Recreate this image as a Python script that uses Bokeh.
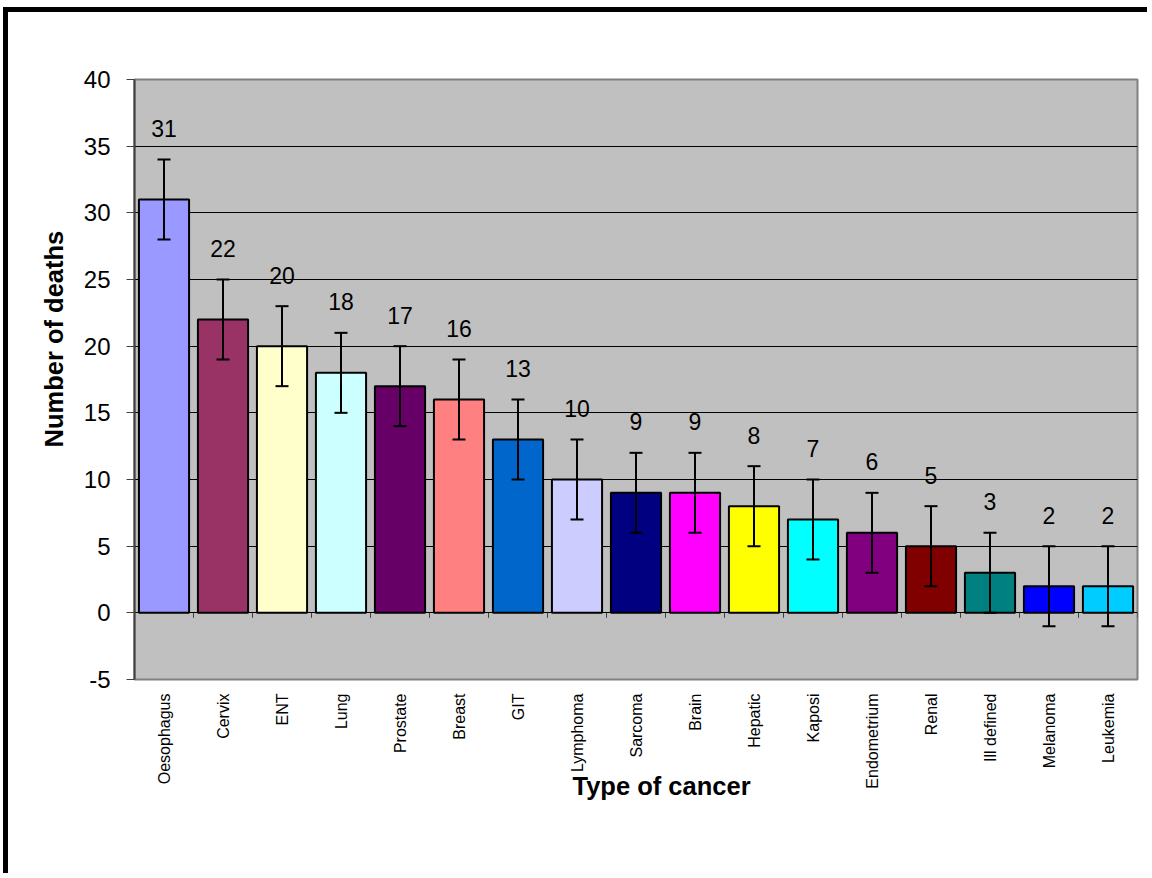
import numpy as np
from bokeh.plotting import figure
from bokeh.models import (ColumnDataSource, FixedTicker, Whisker, TeeHead, Title, Range1d)
from bokeh.core.properties import value
from bokeh.embed import file_html
from bokeh.resources import INLINE

categories = ["Oesophagus", "Cervix", "ENT", "Lung", "Prostate", "Breast", "GIT",
              "Lymphoma", "Sarcoma", "Brain", "Hepatic", "Kaposi", "Endometrium",
              "Renal", "Ill defined", "Melanoma", "Leukemia"]
deaths = [31, 22, 20, 18, 17, 16, 13, 10, 9, 9, 8, 7, 6, 5, 3, 2, 2]
errors = [3, 3, 3, 3, 3, 3, 3, 3, 3, 3, 3, 3, 3, 3, 3, 3, 3]
bar_colors = ["#9999FF", "#993366", "#FFFFCC", "#CCFFFF", "#660066", "#FF8080",
              "#0066CC", "#CCCCFF", "#000080", "#FF00FF", "#FFFF00", "#00FFFF",
              "#800080", "#800000", "#008080", "#0000FF", "#00CCFF"]
y_ticks = [-5, 0, 5, 10, 15, 20, 25, 30, 35, 40]
y_title = "Number of deaths"
x_title = "Type of cancer"

FONT = "Liberation Sans"
n = len(categories)
xs = list(range(n))
boundaries = [i - 0.5 for i in range(n + 1)]
TICK_LEN = 0.375  # length of category tick marks below zero line (y units)

src = ColumnDataSource(dict(
    x=xs,
    top=deaths,
    color=bar_colors,
    upper=[d + e for d, e in zip(deaths, errors)],
    lower=[d - e for d, e in zip(deaths, errors)],
    label=[str(d) for d in deaths],
))

p = figure(width=1144, height=866,
           x_range=Range1d(-0.5, n - 0.5), y_range=Range1d(y_ticks[0], y_ticks[-1]),
           output_backend="svg", toolbar_location=None,
           min_border_left=126, min_border_right=15,
           min_border_top=67, min_border_bottom=199,
           background_fill_color="#C0C0C0", border_fill_color="white",
           styles={"margin-left": "3px", "margin-top": "7px",
                   "border-left": "5px solid black", "border-top": "5px solid black"})

p.outline_line_color = "#808080"
p.outline_line_width = 2

# grid
p.xgrid.visible = False
p.ygrid.ticker = FixedTicker(ticks=y_ticks)
p.ygrid.grid_line_color = "black"
p.ygrid.grid_line_width = 1

# y axis
p.yaxis.ticker = FixedTicker(ticks=y_ticks)
p.yaxis.major_label_overrides = {t: str(t) for t in y_ticks}
p.yaxis.major_tick_out = 8
p.yaxis.major_tick_in = 0
p.yaxis.minor_tick_line_color = None
p.yaxis.major_tick_line_color = "#404040"
p.yaxis.axis_line_color = "#404040"
p.yaxis.axis_line_width = 2
p.yaxis.major_label_standoff = 16
p.yaxis.major_label_text_font = FONT
p.yaxis.major_label_text_font_size = "24px"
p.yaxis.major_label_text_color = "black"

# x axis (category labels at bottom)
p.xaxis.ticker = FixedTicker(ticks=xs)
p.xaxis.major_label_overrides = {i: c for i, c in zip(xs, categories)}
p.xaxis.major_label_orientation = np.pi / 2
p.xaxis.major_tick_out = 0
p.xaxis.major_tick_in = 0
p.xaxis.minor_tick_line_color = None
p.xaxis.axis_line_color = None
p.xaxis.major_label_standoff = 14
p.xaxis.major_label_text_font = FONT
p.xaxis.major_label_text_font_size = "16px"
p.xaxis.major_label_text_color = "black"

# tick marks between categories on the zero line
p.segment(x0=boundaries, y0=[0] * len(boundaries), x1=boundaries,
          y1=[-TICK_LEN] * len(boundaries), line_color="#404040", line_width=1)

# bars
p.vbar(x="x", top="top", bottom=0, width=0.85, source=src,
       fill_color="color", line_color="black", line_width=2)

# error bars (drawn over the bars)
p.add_layout(Whisker(source=src, base="x", upper="upper", lower="lower",
                     line_color="black", line_width=2, level="overlay",
                     upper_head=TeeHead(size=13, line_width=2, line_color="black"),
                     lower_head=TeeHead(size=13, line_width=2, line_color="black")))

# value labels
p.text(x="x", y="top", text="label", source=src, text_align="center",
       text_baseline="alphabetic", y_offset=-71,
       text_font=value(FONT), text_font_size="23px", text_color="black")

# axis titles
p.add_layout(Title(text=y_title, align="left", offset=232, standoff=25,
                   text_font=FONT, text_font_size="25.5px", text_font_style="bold",
                   text_color="black"), "left")
p.add_layout(Title(text=x_title, align="left", offset=438, standoff=-40,
                   vertical_align="top",
                   text_font=FONT, text_font_size="25.5px", text_font_style="bold",
                   text_color="black"), "below")

open("out.html", "w").write(file_html(p, INLINE))
